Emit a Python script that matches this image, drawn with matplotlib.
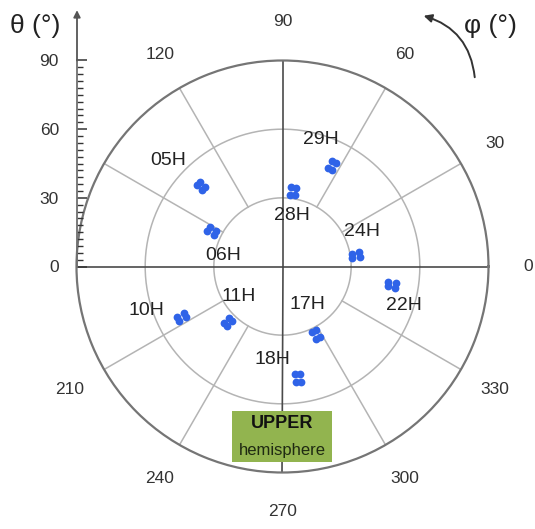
import numpy as np
import matplotlib
import matplotlib.pyplot as plt
from matplotlib.patches import FancyArrowPatch, Rectangle

matplotlib.use('Agg')
plt.rcParams['font.family'] = ['Liberation Sans', 'DejaVu Sans']

# station labels and measured directions (azimuth phi, zenith theta), degrees
stations = ['05H', '06H', '29H', '28H', '24H', '22H', '17H', '18H', '10H', '11H']
phi_deg = [
    [134.3, 136.5, 134.3, 136.5],
    [151.6, 155.0, 151.6, 155.0],
    [62.7, 64.9, 62.7, 64.9],
    [80.4, 83.8, 80.4, 83.8],
    [7.2, 10.6, 7.2, 10.6],
    [349.3, 351.5, 349.3, 351.5],
    [294.4, 297.8, 294.4, 297.8],
    [276.8, 279.0, 276.8, 279.0],
    [205.4, 207.6, 205.4, 207.6],
    [223.8, 227.2, 223.8, 227.2],
]
theta_deg = [
    [48.3, 48.3, 51.7, 51.7],
    [32.8, 32.8, 36.2, 36.2],
    [47.3, 47.3, 50.7, 50.7],
    [31.6, 31.6, 35.0, 35.0],
    [30.8, 30.8, 34.2, 34.2],
    [46.8, 46.8, 50.2, 50.2],
    [31.6, 31.6, 35.0, 35.0],
    [47.5, 47.5, 50.9, 50.9],
    [47.8, 47.8, 51.2, 51.2],
    [32.3, 32.3, 35.7, 35.7],
]
label_phi = [137.1, 169.1, 73.1, 79.3, 23.5, 342.0, 302.5, 263.6, 197.7, 215.0]
label_theta = [68.3, 26.5, 57.8, 22.5, 37.9, 55.8, 19.9, 41.1, 62.6, 23.2]

phi_ticks = [0, 30, 60, 90, 120, 210, 240, 270, 300, 330]
spoke_angles = [30, 60, 120, 150, 210, 240, 300, 330]
theta_rings = [30, 60]

W, H = 535, 529
fig = plt.figure(figsize=(W / 100, H / 100), dpi=100)
cx, cy, R = 282.5, 266.5, 206.0

ax = fig.add_axes([(cx - R) / W, (H - cy - R) / H, 2 * R / W, 2 * R / H],
                  projection='polar')
ax.set_theta_zero_location('E')
ax.set_rlim(0, 90)
ax.set_xticks([])
ax.set_yticks([])
ax.grid(False)
ax.spines['polar'].set_color('#757575')
ax.spines['polar'].set_linewidth(1.6)

full = np.linspace(0, 2 * np.pi, 400)
for r in theta_rings:
    ax.plot(full, np.full_like(full, r), color='#b4b4b4', lw=1.1, zorder=1)
for a in spoke_angles:
    ax.plot([np.deg2rad(a)] * 2, [30, 90], color='#b4b4b4', lw=1.1, zorder=1)
for a in [0, 90, 180, 270]:
    ax.plot([np.deg2rad(a)] * 2, [0, 90], color='#4a4a4a', lw=1.2, zorder=2)

for a in phi_ticks:
    ax.text(np.deg2rad(a), 107.2, str(a), ha='center', va='center',
            fontsize=12.5, color='#333333', clip_on=False)

for name, ph, th, lp, lt in zip(stations, phi_deg, theta_deg, label_phi, label_theta):
    ax.plot(np.deg2rad(ph), th, 'o', ms=5.6, color='#2f63e8', mec='none', zorder=4)
    ax.text(np.deg2rad(lp), lt, name, ha='center', va='center',
            fontsize=14, color='#222222', zorder=5)

# zenith-angle scale on the left
tax = fig.add_axes([77 / W, (H - cy) / H, 0.0005, R / H])
tax.set_ylim(0, 90)
tax.set_xticks([])
for s in ['top', 'right', 'bottom']:
    tax.spines[s].set_visible(False)
tax.spines['left'].set_color('#707070')
tax.spines['left'].set_linewidth(1.3)
tax.set_yticks([0, 30, 60, 90])
tax.set_yticks(np.arange(0, 91, 3), minor=True)
tax.tick_params(axis='y', which='major', direction='in', length=7, width=1.1,
                pad=13, labelsize=12.5, labelcolor='#333333', color='#333333')
tax.tick_params(axis='y', which='minor', direction='in', length=4.5, width=1.0,
                color='#333333')
tax.annotate('', xy=(0, 112), xytext=(0, 90), annotation_clip=False,
             arrowprops=dict(arrowstyle='-|>', color='#555555', lw=1.3,
                             mutation_scale=10, shrinkA=0, shrinkB=0))

fig.text(35 / W, 1 - 26 / H, 'θ (°)', ha='center', va='center', fontsize=19, color='#222222')
fig.text(490 / W, 1 - 26 / H, 'φ (°)', ha='center', va='center', fontsize=19, color='#222222')
fig.add_artist(FancyArrowPatch((475 / W, 1 - 80 / H), (421 / W, 1 - 15 / H),
                               transform=fig.transFigure,
                               connectionstyle='arc3,rad=0.35',
                               arrowstyle='-|>', mutation_scale=12,
                               color='#333333', lw=1.4))

# hemisphere tag
fig.add_artist(Rectangle((232 / W, 1 - 462 / H), 100 / W, 51 / H,
                         transform=fig.transFigure, fc='#92b44f', ec='none', zorder=6))
fig.text(282 / W, 1 - 424 / H, 'UPPER', ha='center', va='center', fontsize=13,
         fontweight='bold', color='#111111', zorder=7)
fig.text(282 / W, 1 - 451 / H, 'hemisphere', ha='center', va='center', fontsize=12,
         color='#1f2a12', zorder=7)

fig.savefig('out.png', dpi=100)
